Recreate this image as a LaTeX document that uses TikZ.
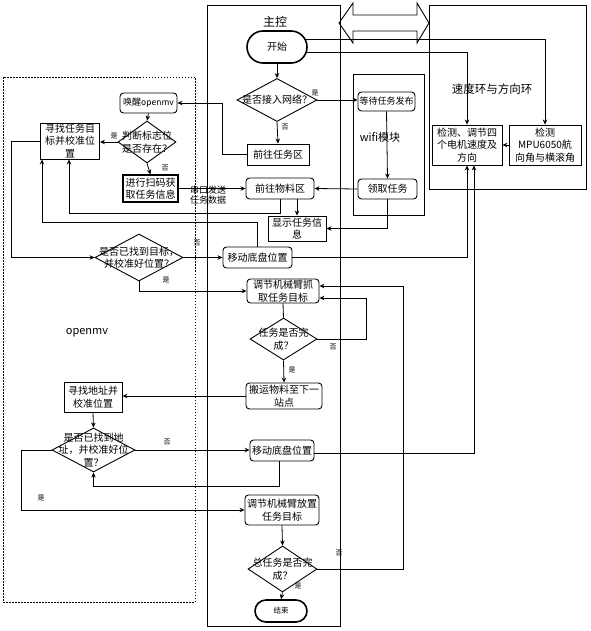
\documentclass[tikz,border=0pt]{standalone}
\usepackage{fontspec}
\setmainfont{Noto Sans CJK SC}
\usetikzlibrary{shapes.geometric,shapes.misc,arrows.meta}
\tikzset{
  every node/.style={font=\fontsize{10}{12.5}\selectfont},
  sz/.style 2 args={minimum width=#1, minimum height=#2},
  box/.style={draw, rectangle, align=center, inner sep=0pt, line width=0.9pt},
  rbox/.style={box, rounded corners=3.5pt},
  dia/.style={draw, diamond, inner sep=0pt, line width=0.9pt},
  dtext/.style={align=center, inner sep=0pt, font=\fontsize{10}{12.5}\selectfont},
  term/.style={draw, rounded rectangle, line width=1.6pt, inner sep=0pt},
  frame/.style={draw, rectangle, inner sep=0pt, line width=0.9pt},
  lab/.style={font=\fontsize{7}{8}\selectfont, inner sep=0pt},
  arr/.style={-{Stealth[length=5pt,width=4.5pt]}},
}
\begin{document}
\begin{tikzpicture}[x=1pt,y=-1pt, line width=0.8pt]
\useasboundingbox (0,0) rectangle (590,631);
\fill[white] (0,0) rectangle (590,631);

% frames
\node[frame, sz={133}{621}] (mainf) at (273.5,315.5) {};
\node[frame, sz={157}{184}] (rightf) at (507.5,97) {};
\node[frame, sz={71}{141}] (wifif) at (388.5,144.5) {};
\node[draw, rectangle, inner sep=0pt, line width=0.8pt, dash pattern=on 1.5pt off 1.5pt, sz={192}{525}] (omvf) at (99,339.5) {};

% titles
\node[font=\fontsize{12}{14}\selectfont] (t1) at (275,22) {主控};
\node[font=\fontsize{11.5}{13}\selectfont] (t2) at (492,89) {速度环与方向环};
\node[font=\fontsize{11}{13}\selectfont] (t3) at (380,137) {wifi模块};
\node[font=\fontsize{11}{13}\selectfont] (t4) at (87,333) {openmv};

% double arrow
\draw[line width=0.9pt] (339,23) -- (353,3) -- (353,15) -- (417,15) -- (417,3) -- (429,23)
  -- (417,43) -- (417,31) -- (353,31) -- (353,43) -- cycle;

% main column
\node[term, sz={60}{32}] (start) at (277,47) {开始};
\node[dia, sz={80}{43}, label={[dtext]center:是否接入网络？}] (d1) at (277,100) {};
\node[box, sz={62}{21}] (renwu) at (278,154.5) {前往任务区};
\node[rbox, sz={68}{21}] (wuliao) at (280,188.5) {前往物料区};
\node[box, sz={58}{25}] (xianshi) at (297,228.5) {显示任务信\\息};
\node[rbox, sz={69}{21}] (yidong1) at (257.5,257.5) {移动底盘位置};
\node[rbox, sz={72}{24}] (zhuaqu) at (283,291) {调节机械臂抓\\取任务目标};
\node[dia, sz={67}{42}, label={[dtext]center:任务是否完\\成？}] (d4) at (283.5,339) {};
\node[rbox, sz={76}{26}] (banyun) at (284,396) {搬运物料至下一\\站点};
\node[rbox, sz={64}{21}] (yidong2) at (282,450.5) {移动底盘位置};
\node[rbox, sz={74}{30}] (fangzhi) at (282,510) {调节机械臂放置\\任务目标};
\node[dia, sz={69}{46}, label={[dtext]center:总任务是否完\\成？}] (d6) at (282.5,569) {};
\node[term, sz={52}{22}, font=\fontsize{7.5}{9}\selectfont] (end) at (281,611) {结束};

% wifi
\node[rbox, sz={57}{19}, font=\fontsize{9}{10}\selectfont] (dengdai) at (386.5,101.5) {等待任务发布};
\node[rbox, sz={59}{20}] (lingqu) at (387.5,189) {领取任务};

% right
\node[box, sz={70}{40}] (detect) at (467,145) {检测、调节四\\个电机速度及\\方向};
\node[box, sz={72}{40}] (mpu) at (545,145) {检测\\MPU6050航\\向角与横滚角};

% openmv
\node[rbox, sz={57}{20}, font=\fontsize{9}{10.5}\selectfont] (wake) at (148.5,103) {唤醒{\fontsize{8.5}{10}\selectfont openmv}};
\node[dia, sz={58}{42}, label={[dtext]center:判断标志位\\是否存在？}] (d2) at (147,142) {};
\node[box, sz={59}{36}] (find1) at (70,141) {寻找任务目\\标并校准位\\置};
\node[box, sz={55}{27}, line width=1.1pt] (scan) at (150.5,188.5) {进行扫码获\\取任务信息};
\node[dia, sz={88}{47}, label={[dtext]center:是否已找到目标，\\并校准好位置？}] (d3) at (139,257.5) {};
\node[box, sz={58}{30}] (find2) at (93,397) {寻找地址并\\校准位置};
\node[dia, sz={83}{44}, label={[dtext]center:是否已找到地\\址，并校准好位\\置？}] (d5) at (93.5,450) {};

% labels
\node[font=\fontsize{9}{10}\selectfont, align=center, inner sep=0pt] (serial) at (208,195) {串口发送\\任务数据};
\node[lab] (l1) at (315,93) {是};
\node[lab] (l2) at (285,127) {否};
\node[lab] (l3) at (114,136) {是};
\node[lab] (l4) at (165,168) {否};
\node[lab] (l5) at (197,243) {否};
\node[lab] (l6) at (166,280) {是};
\node[lab] (l7) at (333,347) {否};
\node[lab] (l8) at (292,370) {是};
\node[lab] (l9) at (167,442) {否};
\node[lab] (l10) at (41,498) {是};
\node[lab] (l11) at (339,553) {否};
\node[lab] (l12) at (298,586) {是};

% connectors
\draw[arr] (start.south) -- (d1.north);
\draw[arr] (d1.east) -- (d1.east -| dengdai.west);
\draw[arr] (d1.south) -- (renwu.north);
\draw[arr] (renwu.west) -- ++(-24,0) |- (wake.east);
\draw[arr] ([xshift=-2pt,yshift=8pt]start.east) -| (mpu.north);
\draw[arr] ([xshift=-1pt,yshift=-5pt]start.east) -| (detect.north);
\draw[arr] (wake.south) -- (d2.north);
\draw[arr] (d2.west) -- (d2.west -| find1.east);
\draw[arr] (d2.south) -- (scan.north);
\draw[arr] (scan.east) -- (wuliao.west);
\draw[arr] (lingqu.west) -- (wuliao.east);
\draw[arr] (dengdai.south) -- (lingqu.north);
\draw[arr] (lingqu.south) |- (xianshi.east);
\draw[arr] (xianshi.north |- wuliao.south) -- (xianshi.north);
\draw[arr] (wuliao.south) -- ++(0,13.5) -| ([xshift=-1pt]find1.south);
\draw[arr] (yidong1.north) -- ++(0,-24) -| ([xshift=-28pt]find1.south);
\draw[arr] (find1.west) -- ++(-29,0) |- (d3.west);
\draw[arr] (d3.east) -- (yidong1.west);
\draw[arr] (d3.south) |- (zhuaqu.west);
\draw[arr] (yidong1.east) -| (detect.south);
\draw (zhuaqu.south) -- (d4.north);
\draw[arr] (d4.east) -- ++(49,0) |- ([yshift=-7pt]zhuaqu.east);
\draw[arr] (d6.east) -- ++(86,0) |- ([yshift=5pt]zhuaqu.east);
\draw[arr] (d4.south) -- (banyun.north);
\draw[arr] (banyun.west) -- (banyun.west -| find2.east);
\draw[arr] (find2.south) -- (d5.north);
\draw[arr] (d5.east) -- (d5.east -| yidong2.west);
\draw[arr] ([xshift=-3pt]yidong2.south) -- ++(0,25) -| (d5.south);
\draw[arr] ([yshift=-2.5pt]yidong2.east) -| ([xshift=7pt]detect.south);
\draw[arr] (d5.west) -- ++(-30,0) |- (fangzhi.west);
\draw[arr] (fangzhi.south) -- (d6.north);
\draw[arr] (d6.south) -- (end.north);
\draw[arr] (mpu.west) -- (detect.east);
\end{tikzpicture}
\end{document}
